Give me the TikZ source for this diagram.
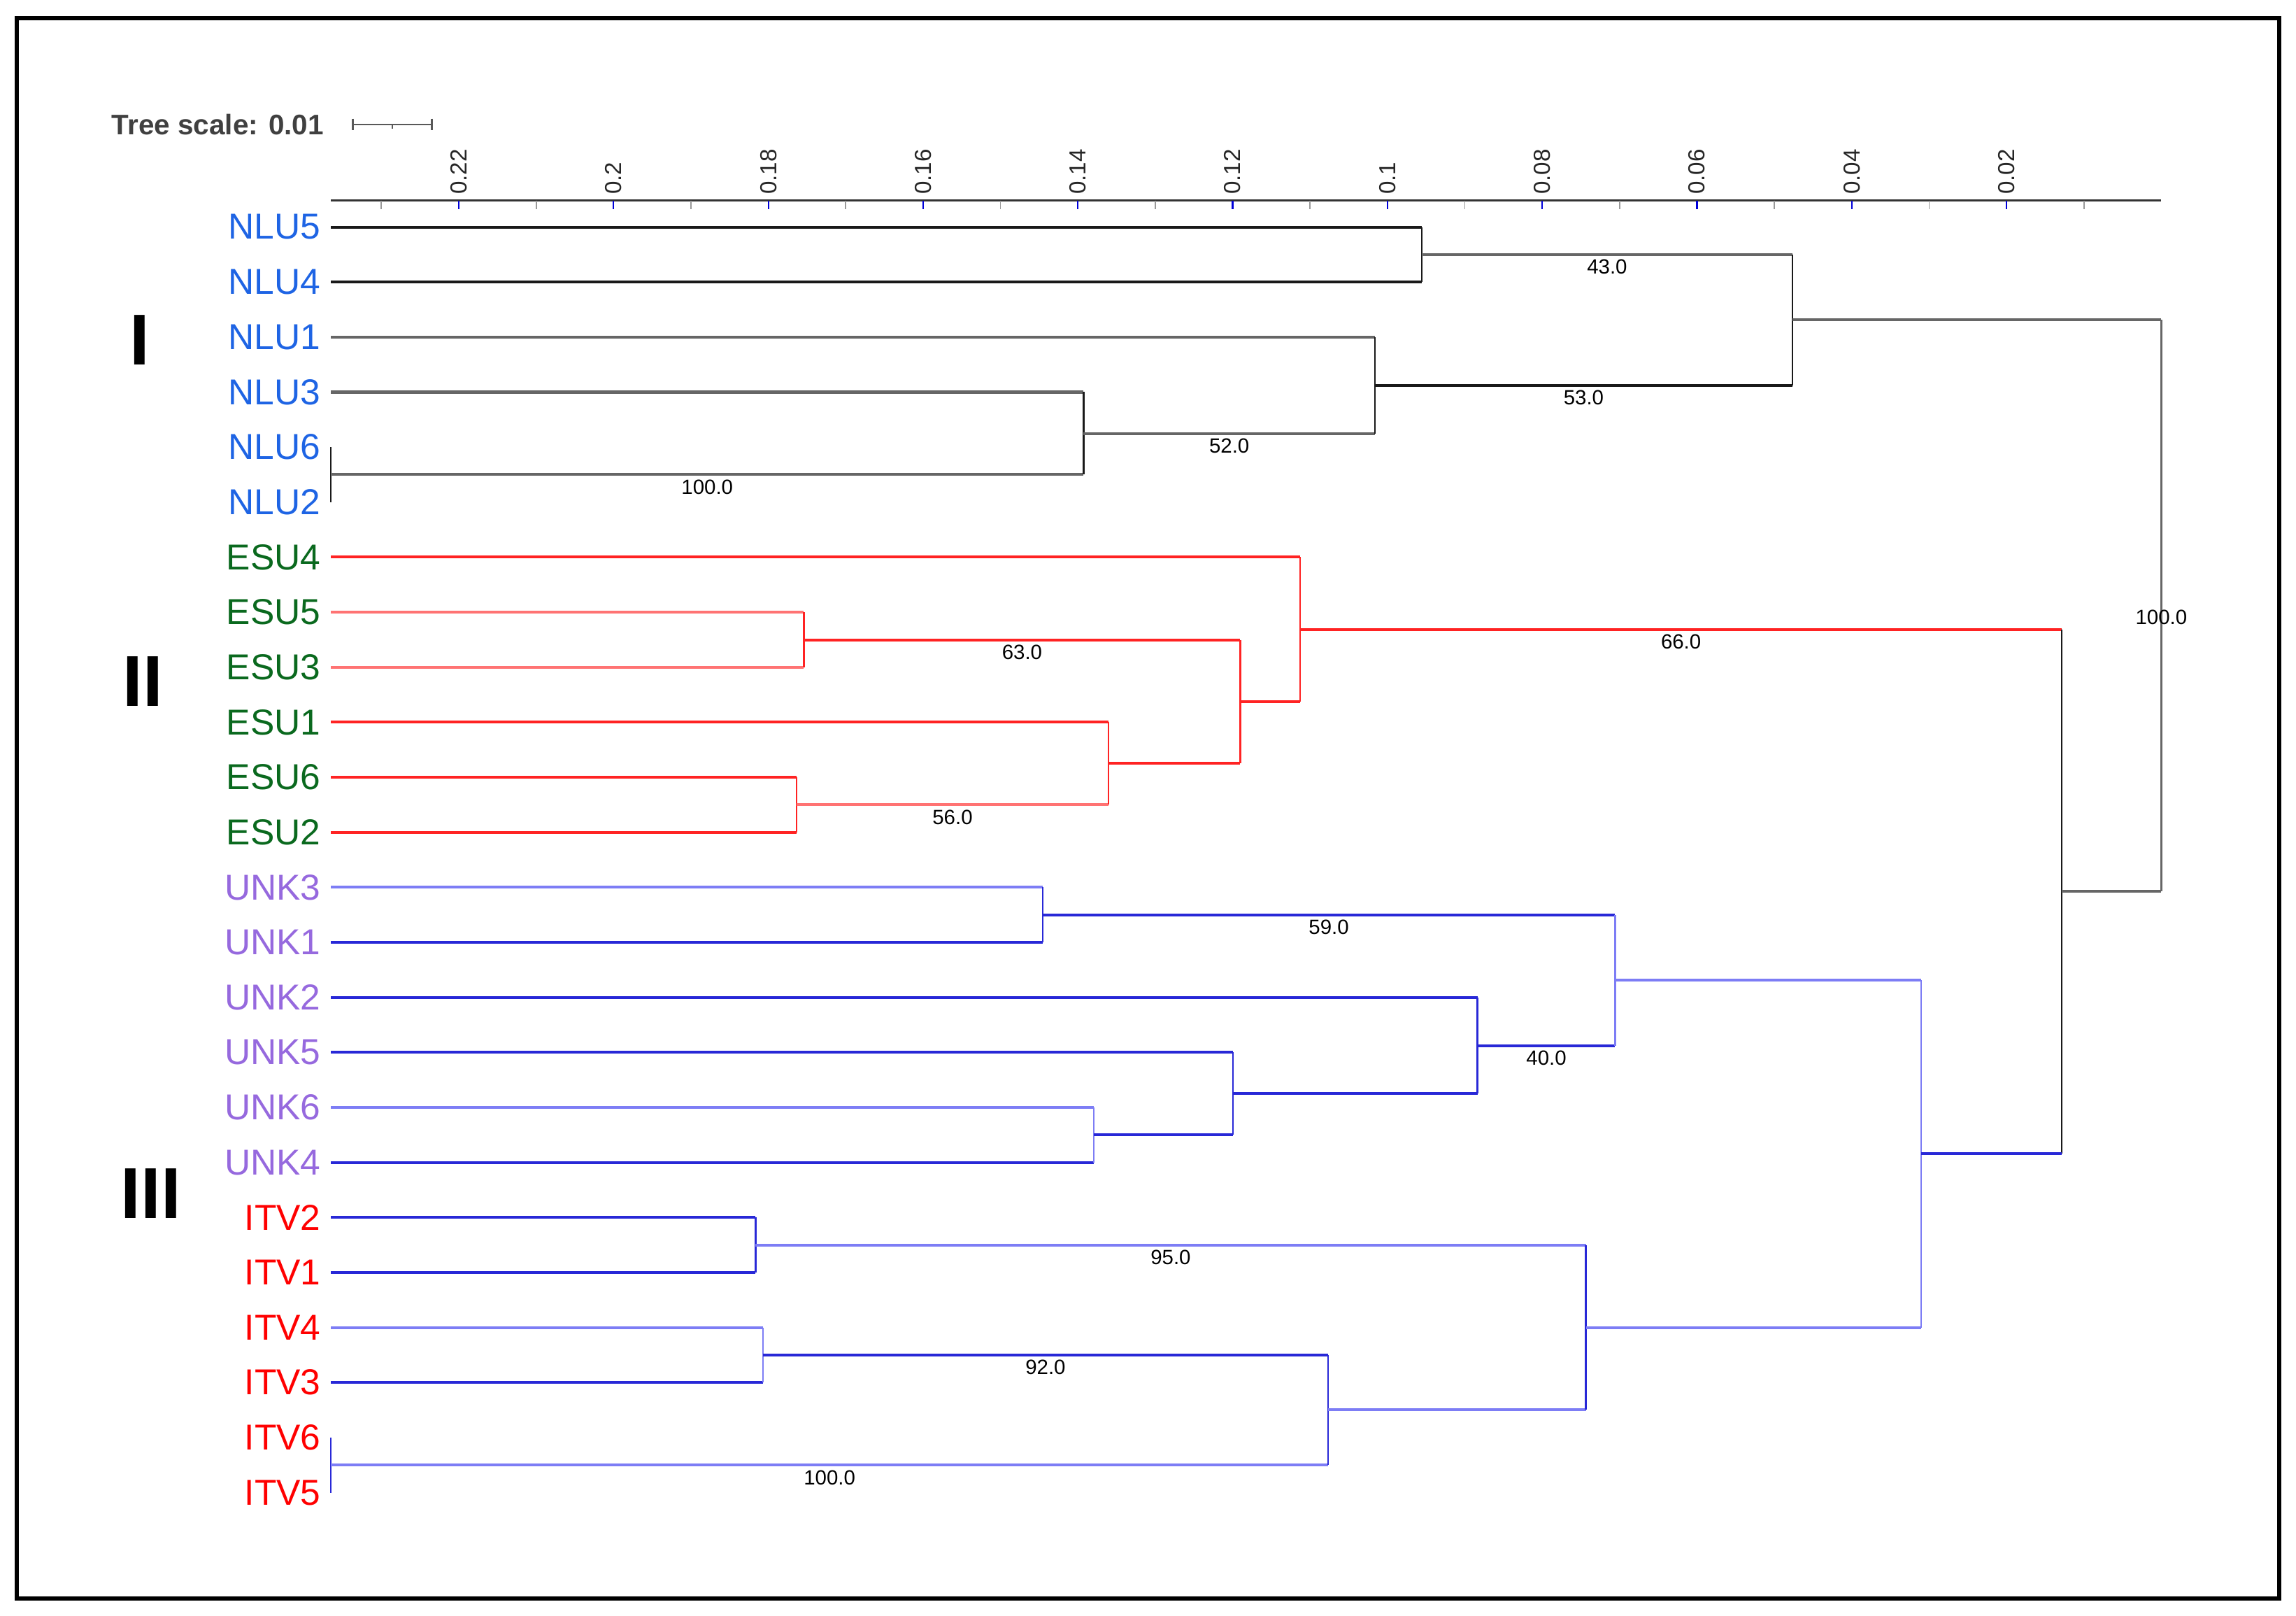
\documentclass[tikz,border=0pt]{standalone}
\usepackage{fontspec}
\setmainfont{Liberation Sans}
\definecolor{nlublue}{RGB}{30,100,228}
\definecolor{esugreen}{RGB}{10,105,30}
\definecolor{unkpurple}{RGB}{150,105,222}
\definecolor{itvred}{RGB}{255,0,0}
\definecolor{brred}{RGB}{255,35,35}
\definecolor{brpink}{RGB}{255,115,115}
\definecolor{brblue}{RGB}{40,40,215}
\definecolor{brsky}{RGB}{125,125,245}

\begin{document}
\begin{tikzpicture}[
        x=0.2mm, y=-0.2mm,
        leaf/.style={anchor=east, inner sep=0pt, outer xsep=4pt, font=\fontsize{14}{16}\selectfont},
        boot/.style={below, inner sep=1.5pt, font=\fontsize{8}{9}\selectfont, text=black},
        tick/.style={rotate=90, anchor=west, inner sep=0pt, font=\fontsize{9}{10}\selectfont, text=black!85},
        clade/.style={inner sep=0pt, font=\fontsize{28}{30}\selectfont\bfseries},
        hb/.style={line width=1.1pt},
        vb/.style={line width=0.65pt},
        brk/.style={draw=black!90},
        brg/.style={draw=black!60},
        brr/.style={draw=brred},
        brp/.style={draw=brpink},
        brb/.style={draw=brblue},
        brs/.style={draw=brsky}
    ]
    \useasboundingbox (0,0) rectangle (1568,1103);
    \draw[line width=1.7pt] (11.5,12.4) rectangle (1556.6,1091.3);

    % scale and axis
    \node[anchor=west, inner sep=0pt, font=\fontsize{11}{12}\selectfont\bfseries, text=black!75] (scale) at (76,85) {Tree scale: 0.01};
    \coordinate (sb0) at (241,85);
    \coordinate (sb1) at (295,85);
    \draw[black!65, line width=0.7pt] (sb0) -- (sb1)
        (sb0) ++(0,-4) -- ++(0,8) (sb1) ++(0,-4) -- ++(0,8) (268,85) -- ++(0,3);
    \coordinate (ax0) at (226,137);
    \coordinate (ax1) at (1476,137);
    \draw[black!80, line width=0.9pt] (ax0) -- (ax1);
    \foreach \k in {1,...,12}
        \draw[black!40, line width=0.5pt] ({1476-(\k-0.5)*105.7},137) -- ++(0,6);
    \foreach \k/\t in {1/0.02,2/0.04,3/0.06,4/0.08,5/0.1,6/0.12,7/0.14,8/0.16,9/0.18,10/0.2,11/0.22} {
        \draw[blue!85!black, line width=0.6pt] ({1476-\k*105.7},137) -- ++(0,6);
        \node[tick] at ({1476-\k*105.7},133) {\t};
    }

    % leaves
    \foreach \n/\c [count=\i from 0] in {NLU5/nlublue,NLU4/nlublue,NLU1/nlublue,NLU3/nlublue,NLU6/nlublue,NLU2/nlublue,
        ESU4/esugreen,ESU5/esugreen,ESU3/esugreen,ESU1/esugreen,ESU6/esugreen,ESU2/esugreen,
        UNK3/unkpurple,UNK1/unkpurple,UNK2/unkpurple,UNK5/unkpurple,UNK6/unkpurple,UNK4/unkpurple,
        ITV2/itvred,ITV1/itvred,ITV4/itvred,ITV3/itvred,ITV6/itvred,ITV5/itvred}
        \node[leaf, text=\c] (\n) at (226,{155+\i*37.565}) {\n};

    \node[clade] (cI) at (95.5,232) {I};
    \node[clade] (cII) at (97.5,465) {II};
    \node[clade] (cIII) at (103,815) {III};

    % inner nodes
    \coordinate (a1) at (971,173.8);
    \coordinate (a2) at (226,324);
    \coordinate (a3) at (740,295.9);
    \coordinate (a4) at (939,263);
    \coordinate (a5) at (1224,218.4);
    \coordinate (b1) at (549,436.8);
    \coordinate (b2) at (544,549.4);
    \coordinate (b3) at (757,521.3);
    \coordinate (b4) at (847,479);
    \coordinate (b5) at (888,429.7);
    \coordinate (c1) at (712,624.6);
    \coordinate (c2) at (747,774.8);
    \coordinate (c3) at (842,746.6);
    \coordinate (c4) at (1009,713.8);
    \coordinate (c5) at (1103,669.2);
    \coordinate (d1) at (516,850);
    \coordinate (d2) at (521,925);
    \coordinate (d3) at (226,1000.2);
    \coordinate (d4) at (907,962.6);
    \coordinate (d5) at (1083,906.3);
    \coordinate (e1) at (1312,787.8);
    \coordinate (f1) at (1408,608.7);
    \coordinate (root) at (1476,413.6);

    % clade I
    \draw[hb, brk] (NLU5.east) -- (NLU5.east -| a1);
    \draw[hb, brk] (NLU4.east) -- (NLU4.east -| a1);
    \draw[vb, brk] (NLU5.east -| a1) -- (NLU4.east -| a1);
    \draw[hb, brg] (NLU1.east) -- (NLU1.east -| a4);
    \draw[hb, brg] (NLU3.east) -- (NLU3.east -| a3);
    \draw[vb, brk] (NLU6.east) -- (NLU2.east);
    \draw[hb, brg] (a2) -- (a2 -| a3) node[boot, midway] {100.0};
    \draw[vb, brk] (NLU3.east -| a3) -- (a2 -| a3);
    \draw[hb, brg] (a3) -- (a3 -| a4) node[boot, midway] {52.0};
    \draw[vb, brk] (NLU1.east -| a4) -- (a3 -| a4);
    \draw[hb, brg] (a1) -- (a1 -| a5) node[boot, midway] {43.0};
    \draw[hb, brk] (a4) -- (a4 -| a5) node[boot, midway] {53.0};
    \draw[vb, brk] (a1 -| a5) -- (a4 -| a5);
    \draw[hb, brg] (a5) -- (a5 -| root);
    \draw[vb, brg] (a5 -| root) -- (f1 -| root);
    \node[boot] at (root) {100.0};

    % clade II
    \draw[hb, brr] (ESU4.east) -- (ESU4.east -| b5);
    \draw[hb, brp] (ESU5.east) -- (ESU5.east -| b1);
    \draw[hb, brp] (ESU3.east) -- (ESU3.east -| b1);
    \draw[vb, brr] (ESU5.east -| b1) -- (ESU3.east -| b1);
    \draw[hb, brr] (b1) -- (b1 -| b4) node[boot, midway] {63.0};
    \draw[hb, brr] (ESU1.east) -- (ESU1.east -| b3);
    \draw[hb, brr] (ESU6.east) -- (ESU6.east -| b2);
    \draw[hb, brr] (ESU2.east) -- (ESU2.east -| b2);
    \draw[vb, brr] (ESU6.east -| b2) -- (ESU2.east -| b2);
    \draw[hb, brp] (b2) -- (b2 -| b3) node[boot, midway] {56.0};
    \draw[vb, brr] (ESU1.east -| b3) -- (b2 -| b3);
    \draw[hb, brr] (b3) -- (b3 -| b4);
    \draw[vb, brr] (b1 -| b4) -- (b3 -| b4);
    \draw[hb, brr] (b4) -- (b4 -| b5);
    \draw[vb, brr] (ESU4.east -| b5) -- (b4 -| b5);
    \draw[hb, brr] (b5) -- (b5 -| f1) node[boot, midway] {66.0};
    \draw[vb, brk] (b5 -| f1) -- (e1 -| f1);
    \draw[hb, brg] (f1) -- (f1 -| root);

    % clade III
    \draw[hb, brs] (UNK3.east) -- (UNK3.east -| c1);
    \draw[hb, brb] (UNK1.east) -- (UNK1.east -| c1);
    \draw[vb, brb] (UNK3.east -| c1) -- (UNK1.east -| c1);
    \draw[hb, brb] (c1) -- (c1 -| c5) node[boot, midway] {59.0};
    \draw[hb, brb] (UNK2.east) -- (UNK2.east -| c4);
    \draw[hb, brb] (UNK5.east) -- (UNK5.east -| c3);
    \draw[hb, brs] (UNK6.east) -- (UNK6.east -| c2);
    \draw[hb, brb] (UNK4.east) -- (UNK4.east -| c2);
    \draw[vb, brs] (UNK6.east -| c2) -- (UNK4.east -| c2);
    \draw[hb, brb] (c2) -- (c2 -| c3);
    \draw[vb, brb] (UNK5.east -| c3) -- (c2 -| c3);
    \draw[hb, brb] (c3) -- (c3 -| c4);
    \draw[vb, brb] (UNK2.east -| c4) -- (c3 -| c4);
    \draw[hb, brb] (c4) -- (c4 -| c5) node[boot, midway] {40.0};
    \draw[vb, brs] (c1 -| c5) -- (c4 -| c5);
    \draw[hb, brs] (c5) -- (c5 -| e1);
    \draw[hb, brb] (ITV2.east) -- (ITV2.east -| d1);
    \draw[hb, brb] (ITV1.east) -- (ITV1.east -| d1);
    \draw[vb, brb] (ITV2.east -| d1) -- (ITV1.east -| d1);
    \draw[hb, brs] (d1) -- (d1 -| d5) node[boot, midway] {95.0};
    \draw[hb, brs] (ITV4.east) -- (ITV4.east -| d2);
    \draw[hb, brb] (ITV3.east) -- (ITV3.east -| d2);
    \draw[vb, brs] (ITV4.east -| d2) -- (ITV3.east -| d2);
    \draw[hb, brb] (d2) -- (d2 -| d4) node[boot, midway] {92.0};
    \draw[vb, brb] (ITV6.east) -- (ITV5.east);
    \draw[hb, brs] (d3) -- (d3 -| d4) node[boot, midway] {100.0};
    \draw[vb, brb] (d2 -| d4) -- (d3 -| d4);
    \draw[hb, brs] (d4) -- (d4 -| d5);
    \draw[vb, brb] (d1 -| d5) -- (d4 -| d5);
    \draw[hb, brs] (d5) -- (d5 -| e1);
    \draw[vb, brs] (c5 -| e1) -- (d5 -| e1);
    \draw[hb, brb] (e1) -- (e1 -| f1);
\end{tikzpicture}
\end{document}
